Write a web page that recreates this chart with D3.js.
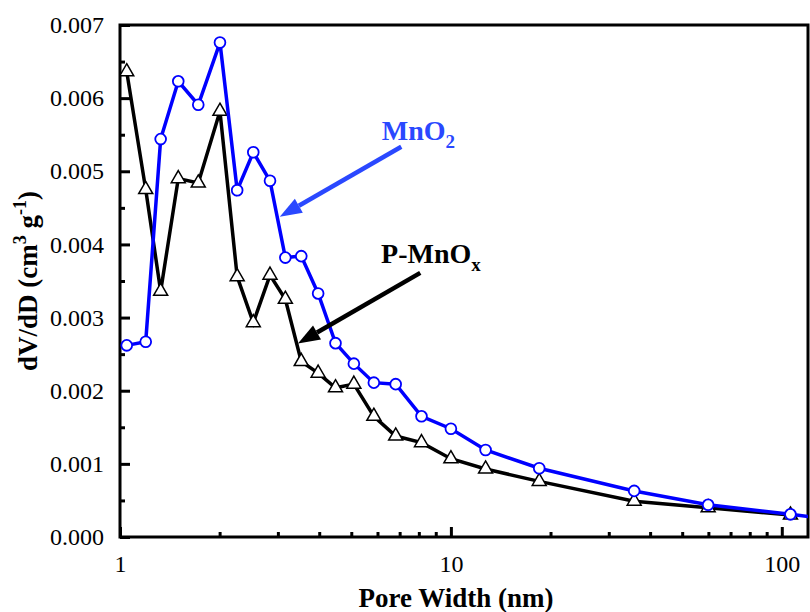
<!DOCTYPE html>
<html>
<head>
<meta charset="utf-8">
<script src="https://cdn.jsdelivr.net/npm/d3@7"></script>
<style>
  body { margin: 0; background: #fff; }
  svg { display: block; font-family: "Liberation Serif", "Times New Roman", serif; }
  .axis line { stroke: #000; stroke-width: 3; }
  .axis path { display: none; }
</style>
</head>
<body>
<script>
// Pore size distribution data
var poreWidth = [1.048, 1.196, 1.327, 1.50, 1.724, 2.005, 2.26, 2.528, 2.84, 3.16, 3.53, 3.97,
                 4.48, 5.09, 5.85, 6.81, 8.15, 10.0, 12.73, 18.49, 35.8, 59.9, 106.2];
var mno2 = [0.00262, 0.00267, 0.00544, 0.00623, 0.00591, 0.00676, 0.00474, 0.00526, 0.00487,
            0.00382, 0.00384, 0.00333, 0.00265, 0.00237, 0.00211, 0.00209, 0.00165, 0.00148,
            0.00119, 0.00094, 0.00063, 0.00044, 0.00031];
var pmnox = [0.00636, 0.00475, 0.00336, 0.00490, 0.00484, 0.00582, 0.00356, 0.00293, 0.00358,
             0.00325, 0.00240, 0.00224, 0.00204, 0.00209, 0.00165, 0.00138, 0.00129, 0.00107,
             0.00093, 0.00076, 0.00049, 0.00040, 0.00030];
// the MnO2 line runs on past the right edge of the frame
var mno2Tail = {x: 150, y: 0.000225};

var xMajor = [1, 10, 100];
var xMinor = [2, 3, 4, 5, 6, 7, 8, 9, 20, 30, 40, 50, 60, 70, 80, 90];
var yMajor = [0, 0.001, 0.002, 0.003, 0.004, 0.005, 0.006, 0.007];
var yMinor = [0.0005, 0.0015, 0.0025, 0.0035, 0.0045, 0.0055, 0.0065];

// annotations: label anchor and arrow, in data units
var notes = [
  {text: "MnO", sub: "2", color: "#2a48ff", tx: 6.18, ty: 0.00543, from: [7.08, 0.005335], to: [3.04, 0.004378]},
  {text: "P-MnO", sub: "x", color: "#000", tx: 6.15, ty: 0.003748, from: [8.08, 0.003611], to: [3.45, 0.002646]}
];

var margin = {top: 25, right: 2, bottom: 75, left: 120},
    width = 810 - margin.left - margin.right,
    height = 612 - margin.top - margin.bottom;

var serif = "'Liberation Serif', 'Times New Roman', serif";

var xScale = d3.scaleLog().domain([1, 120]).range([0, width]);
var yScale = d3.scaleLinear().domain([0, 0.007]).range([height, 0]);

var svg = d3.select("body").append("svg")
    .attr("width", 810)
    .attr("height", 612)
  .append("g")
    .attr("transform", "translate(" + margin.left + "," + margin.top + ")");

svg.append("clipPath").attr("id", "clip")
  .append("rect").attr("width", width).attr("height", height);

// axes with inward ticks
function styleAxis(g) {
  g.attr("font-family", serif).attr("font-size", 24);
  g.selectAll("text").attr("fill", "#000");
}
svg.append("g").attr("class", "x axis")
    .attr("transform", "translate(0," + height + ")")
    .call(d3.axisBottom(xScale).tickValues(xMajor).tickSize(-10).tickPadding(18).tickFormat(d3.format("d")))
    .call(styleAxis);
svg.append("g").attr("class", "x axis")
    .attr("transform", "translate(0," + height + ")")
    .call(d3.axisBottom(xScale).tickValues(xMinor).tickSize(-5).tickFormat(""));
svg.append("g").attr("class", "y axis")
    .call(d3.axisLeft(yScale).tickValues(yMajor).tickSize(-10).tickPadding(16).tickFormat(d3.format(".3f")))
    .call(styleAxis);
svg.append("g").attr("class", "y axis")
    .call(d3.axisLeft(yScale).tickValues(yMinor).tickSize(-5).tickFormat(""));

// frame
svg.append("rect")
    .attr("width", width).attr("height", height)
    .attr("fill", "none").attr("stroke", "#000").attr("stroke-width", 3);

var line = d3.line()
    .x(function(d) { return xScale(d.x); })
    .y(function(d) { return yScale(d.y); });

var blueData = poreWidth.map(function(x, i) { return {x: x, y: mno2[i]}; });
var blackData = poreWidth.map(function(x, i) { return {x: x, y: pmnox[i]}; });

var plot = svg.append("g").attr("clip-path", "url(#clip)");

plot.append("path").datum(blackData)
    .attr("d", line).attr("fill", "none").attr("stroke", "#000").attr("stroke-width", 3.5);
var tri = d3.symbol().type(d3.symbolTriangle).size(85);
plot.selectAll(".tri").data(blackData).enter().append("path")
    .attr("class", "tri")
    .attr("d", tri)
    .attr("transform", function(d) { return "translate(" + xScale(d.x) + "," + yScale(d.y) + ")"; })
    .attr("fill", "#fff").attr("stroke", "#000").attr("stroke-width", 1.5);

plot.append("path").datum(blueData.concat([mno2Tail]))
    .attr("d", line).attr("fill", "none").attr("stroke", "#0000ff").attr("stroke-width", 3.5);
plot.selectAll(".dot").data(blueData).enter().append("circle")
    .attr("class", "dot")
    .attr("cx", function(d) { return xScale(d.x); })
    .attr("cy", function(d) { return yScale(d.y); })
    .attr("r", 5.4)
    .attr("fill", "#fff").attr("stroke", "#0000ff").attr("stroke-width", 1.8);

// annotations
notes.forEach(function(n) {
  var t = svg.append("text")
      .attr("x", xScale(n.tx)).attr("y", yScale(n.ty))
      .attr("fill", n.color)
      .style("font-size", "28px").style("font-weight", "bold");
  t.append("tspan").text(n.text);
  t.append("tspan").attr("dy", 8).style("font-size", "19px").text(n.sub);

  var x1 = xScale(n.from[0]), y1 = yScale(n.from[1]),
      x2 = xScale(n.to[0]), y2 = yScale(n.to[1]);
  var ang = Math.atan2(y2 - y1, x2 - x1), headLen = 22, headW = 8;
  var bx = x2 - headLen * Math.cos(ang), by = y2 - headLen * Math.sin(ang);
  svg.append("line")
      .attr("x1", x1).attr("y1", y1).attr("x2", bx).attr("y2", by)
      .attr("stroke", n.color).attr("stroke-width", 4.5);
  var px = -Math.sin(ang) * headW, py = Math.cos(ang) * headW;
  svg.append("path")
      .attr("d", "M" + x2 + "," + y2 + "L" + (bx + px) + "," + (by + py) + "L" + (bx - px) + "," + (by - py) + "Z")
      .attr("fill", n.color);
});

// axis titles
svg.append("text")
    .attr("x", width / 2 - 8).attr("y", height + 70)
    .style("text-anchor", "middle").style("font-size", "27px").style("font-weight", "bold")
    .text("Pore Width (nm)");

var yt = svg.append("text")
    .attr("transform", "rotate(-90)")
    .attr("x", -height / 2).attr("y", -83)
    .style("text-anchor", "middle").style("font-size", "27px").style("font-weight", "bold");
yt.append("tspan").text("dV/dD (cm");
yt.append("tspan").attr("dy", -11).style("font-size", "18px").text("3");
yt.append("tspan").attr("dy", 11).text(" g");
yt.append("tspan").attr("dy", -11).style("font-size", "18px").text("-1");
yt.append("tspan").attr("dy", 11).text(")");
</script>
</body>
</html>
